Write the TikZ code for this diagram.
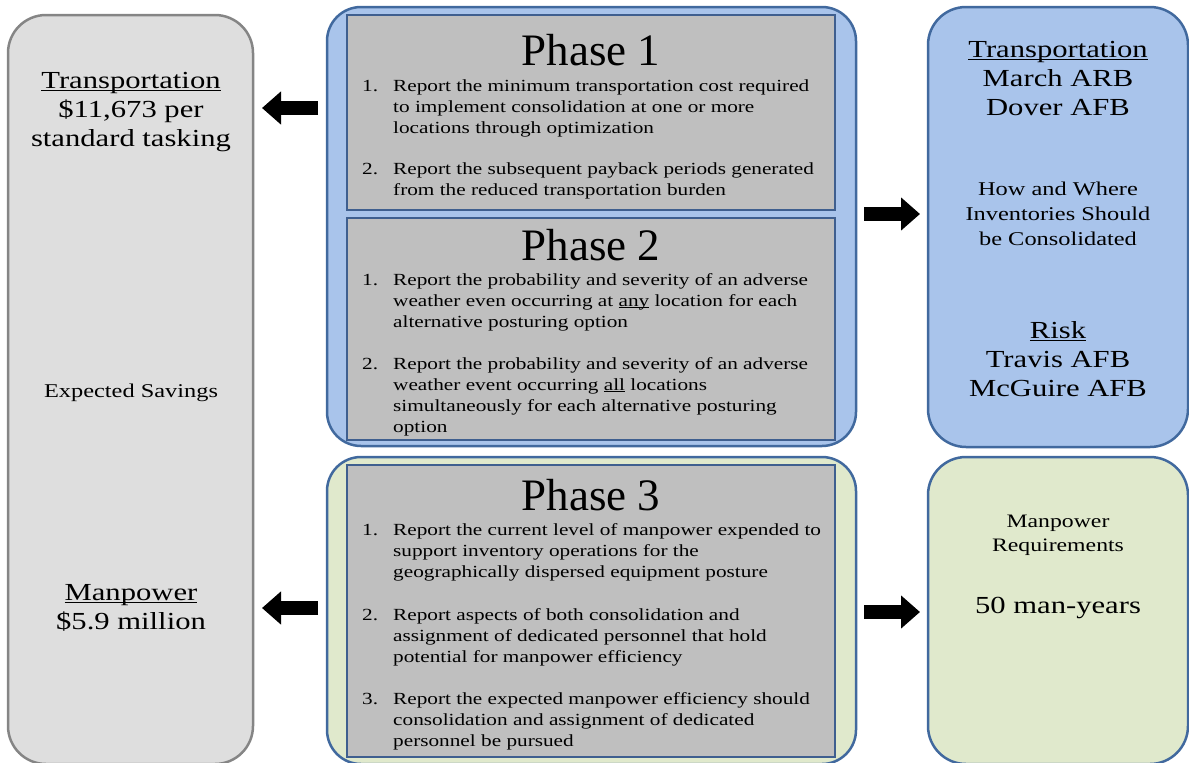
\documentclass[tikz,border=0pt]{standalone}
\usepackage{fontspec}
\setmainfont{Liberation Serif}
\newfontfamily\wideserif[FakeStretch=1.25]{Liberation Serif}
\usetikzlibrary{arrows.meta}
\definecolor{savefill}{HTML}{DEDEDE}
\definecolor{savedraw}{HTML}{858585}
\definecolor{bluefill}{HTML}{A9C4EB}
\definecolor{bluedraw}{HTML}{41699E}
\definecolor{greenfill}{HTML}{E0E9CC}
\definecolor{phasefill}{HTML}{BFBFBF}
\definecolor{phasedraw}{HTML}{3F5F8F}
\newcommand{\mycenter}[1]{\begin{tabular}[t]{@{}c@{}}#1\end{tabular}}
\newcommand{\myleft}[1]{\begin{tabular}[t]{@{}l@{}}#1\end{tabular}}
\newsavebox\myulbox
\newcommand{\myul}[1]{\sbox\myulbox{#1}\rlap{\rule[-0.12em]{\wd\myulbox}{0.055em}}\usebox\myulbox}
\begin{document}
\begin{tikzpicture}[x=1pt,y=-1pt,
  panel/.style={rounded corners=38pt, line width=2.5pt, inner sep=0pt},
  phasebox/.style={fill=phasefill, draw=phasedraw, line width=2.5pt, inner sep=0pt,
    minimum width=488pt},
  txt/.style={inner sep=0pt, anchor=base, text=black},
  big/.style={txt, font=\wideserif\fontsize{24.5}{29}\selectfont},
  mid/.style={txt, font=\wideserif\fontsize{19.5}{25}\selectfont},
  num/.style={inner sep=0pt, anchor=base west, font=\wideserif\fontsize{17}{21}\selectfont},
  item/.style={inner sep=0pt, anchor=base west, font=\wideserif\fontsize{17}{21}\selectfont},
  title/.style={inner sep=0pt, anchor=base, font=\fontsize{45}{50}\selectfont},
  blockarr/.style={line width=14pt, black, -{Triangle[length=19pt,width=32pt]}}
]
\useasboundingbox (0,0) rectangle (1189,763);

% panels
\node[panel, fill=savefill, draw=savedraw, minimum width=245pt, minimum height=749pt] (save) at (130.5,389.5) {};
\node[panel, rounded corners=34pt, fill=bluefill, draw=bluedraw, minimum width=529pt, minimum height=439pt] (bluemid) at (591.5,226.5) {};
\node[panel, rounded corners=34pt, fill=greenfill, draw=bluedraw, minimum width=529pt, minimum height=307pt] (greenmid) at (591.5,610.5) {};
\node[panel, fill=bluefill, draw=bluedraw, minimum width=260pt, minimum height=440pt] (blueright) at (1058,227) {};
\node[panel, fill=greenfill, draw=bluedraw, minimum width=260pt, minimum height=307pt] (greenright) at (1058,610.5) {};

\node[phasebox, minimum height=195pt] (p1) at (591,112.5) {};
\node[phasebox, minimum height=222pt] (p2) at (591,329) {};
\node[phasebox, minimum height=292pt] (p3) at (591,611) {};

% left texts
\node[big] (lt) at (131,88) {\mycenter{\myul{Transportation}\\ \$11,673 per\\ standard tasking}};
\node[mid] (ls) at (131,397) {Expected Savings};
\node[big] (lm) at (131,600) {\mycenter{\myul{Manpower}\\ \$5.9 million}};

% right texts
\node[big] (rt) at (1058,57) {\mycenter{\myul{Transportation}\\ March ARB\\ Dover AFB}};
\node[mid] (rh) at (1058,195) {\mycenter{How and Where\\ Inventories Should\\ be Consolidated}};
\node[big] (rr) at (1058,338) {\mycenter{\myul{Risk}\\ Travis AFB\\ McGuire AFB}};
\node[txt, font=\wideserif\fontsize{19}{24}\selectfont] (rm) at (1058,527) {\mycenter{Manpower\\ Requirements}};
\node[big] (ry) at (1058,613) {50 man-years};

% phase 1
\node[title] (t1) at (591,65) {Phase 1};
\node[num] (n11) at (362,91) {1.};
\node[item] (i11) at (393,91) {\myleft{Report the minimum transportation cost required\\ to implement consolidation at one or more\\ locations through optimization}};
\node[num] (n12) at (362,174) {2.};
\node[item] (i12) at (393,174) {\myleft{Report the subsequent payback periods generated\\ from the reduced transportation burden}};

% phase 2
\node[title] (t2) at (591,260) {Phase 2};
\node[num] (n21) at (362,285) {1.};
\node[item] (i21) at (393,285) {\myleft{Report the probability and severity of an adverse\\ weather even occurring at \myul{any} location for each\\ alternative posturing option}};
\node[num] (n22) at (362,369) {2.};
\node[item] (i22) at (393,369) {\myleft{Report the probability and severity of an adverse\\ weather event occurring \myul{all} locations\\ simultaneously for each alternative posturing\\ option}};

% phase 3
\node[title] (t3) at (591,510) {Phase 3};
\node[num] (n31) at (362,535) {1.};
\node[item] (i31) at (393,535) {\myleft{Report the current level of manpower expended to\\ support inventory operations for the\\ geographically dispersed equipment posture}};
\node[num] (n32) at (362,620) {2.};
\node[item] (i32) at (393,620) {\myleft{Report aspects of both consolidation and\\ assignment of dedicated personnel that hold\\ potential for manpower efficiency}};
\node[num] (n33) at (362,704) {3.};
\node[item] (i33) at (393,704) {\myleft{Report the expected manpower efficiency should\\ consolidation and assignment of dedicated\\ personnel be pursued}};

% arrows
\coordinate (a1s) at (318,108);
\coordinate (a1e) at (262,108);
\coordinate (a2s) at (864,214);
\coordinate (a2e) at (920,214);
\coordinate (a3s) at (318,608);
\coordinate (a3e) at (262,608);
\coordinate (a4s) at (864,612);
\coordinate (a4e) at (920,612);
\draw[blockarr] (a1s) -- (a1e);
\draw[blockarr] (a2s) -- (a2e);
\draw[blockarr] (a3s) -- (a3e);
\draw[blockarr] (a4s) -- (a4e);
\end{tikzpicture}
\end{document}
